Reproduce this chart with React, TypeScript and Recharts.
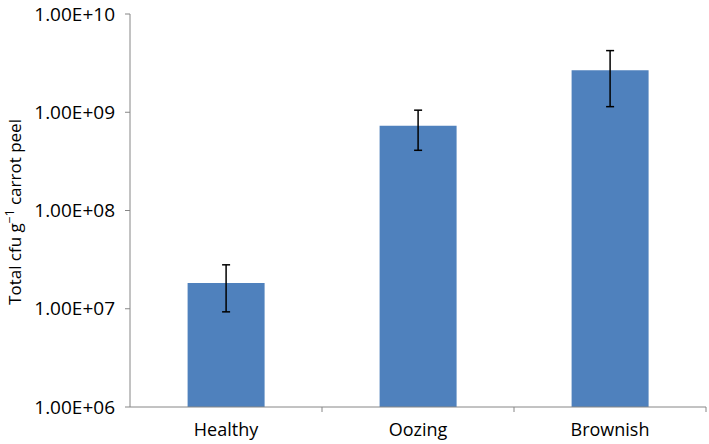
import { BarChart, Bar, XAxis, YAxis, ErrorBar } from 'recharts';

const categories = ['Healthy', 'Oozing', 'Brownish'];
const cfuMeans = [1.83e7, 7.3e8, 2.67e9];
const cfuLower = [9.3e6, 4.1e8, 1.14e9];
const cfuUpper = [2.8e7, 1.05e9, 4.24e9];
const yTicks = [1e6, 1e7, 1e8, 1e9, 1e10];

const data = categories.map((name, i) => ({
  name,
  cfu: cfuMeans[i],
  err: [cfuMeans[i] - cfuLower[i], cfuUpper[i] - cfuMeans[i]],
}));

const FONT = '"Open Sans", sans-serif';

const formatSci = (v: number) => {
  const exp = Math.round(Math.log10(v));
  return `${(v / Math.pow(10, exp)).toFixed(2)}E+${String(exp).padStart(2, '0')}`;
};

function CategoryTick(props: any) {
  const { x, y, payload } = props;
  const half = payload.offset || 0;
  return (
    <g>
      <line x1={x + half} y1={y - 8} x2={x + half} y2={y - 3} stroke="#868686" />
      <text x={x} y={y + 21} textAnchor="middle" fill="#000" fontSize={18} fontFamily={FONT}>
        {payload.value}
      </text>
    </g>
  );
}

function YTitle() {
  return (
    <text
      transform="translate(21, 212) rotate(-90)"
      textAnchor="middle"
      fontSize={17}
      fontFamily={FONT}
      fill="#000"
    >
      Total cfu g
      <tspan fontSize={12} dy={-7}>−1</tspan>
      <tspan dy={7}> carrot peel</tspan>
    </text>
  );
}

export default function App() {
  return (
    <div style={{ position: 'absolute', left: 0, top: 0, background: '#fff' }}>
      <BarChart
        width={709}
        height={444}
        data={data}
        margin={{ top: 14, right: 3, bottom: 0, left: 0 }}
        barCategoryGap="30%"
      >
        <XAxis
          dataKey="name"
          height={37}
          axisLine={{ stroke: '#868686' }}
          tickLine={false}
          tick={<CategoryTick />}
          interval={0}
        />
        <YAxis
          scale="log"
          domain={[1e6, 1e10]}
          ticks={yTicks}
          allowDataOverflow
          width={130}
          axisLine={{ stroke: '#868686' }}
          tickLine={{ stroke: '#868686' }}
          tickSize={5}
          tickMargin={10}
          tickFormatter={formatSci}
          tick={{ fill: '#000', fontSize: 19, fontFamily: FONT }}
        />
        <Bar dataKey="cfu" fill="#4F81BD" isAnimationActive={false}>
          <ErrorBar dataKey="err" width={4} stroke="#000" strokeWidth={1.5} />
        </Bar>
        <YTitle />
      </BarChart>
    </div>
  );
}
